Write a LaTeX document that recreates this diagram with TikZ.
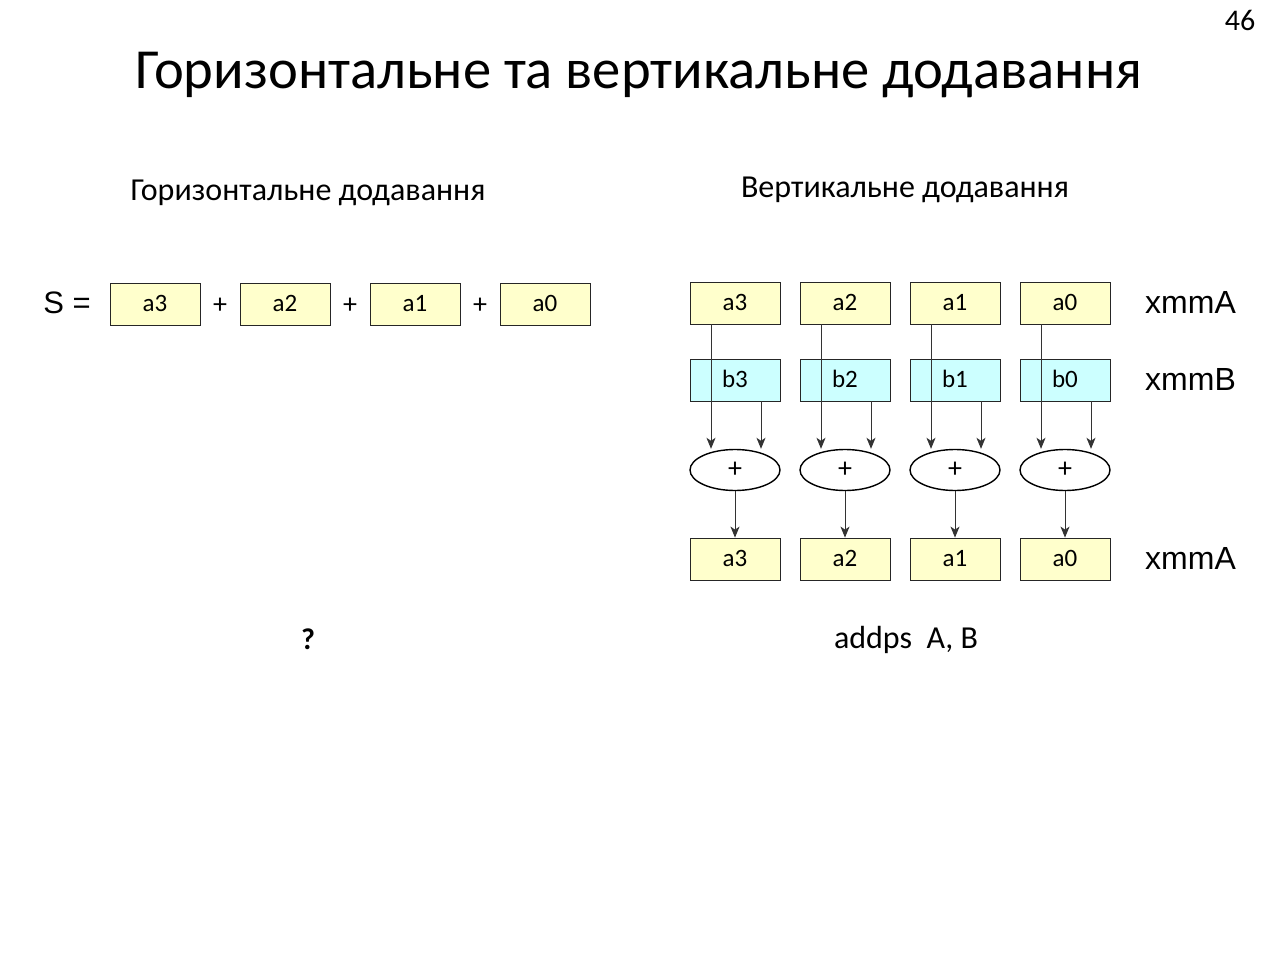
\documentclass[tikz,border=0pt]{standalone}
\usepackage{fontspec}
\setmainfont{Carlito}
\newfontfamily\arialf{Liberation Sans}
\usetikzlibrary{arrows.meta,shapes.geometric}
\definecolor{yel}{HTML}{FFFFCC}
\definecolor{cya}{HTML}{CCFFFF}
\begin{document}
\begin{tikzpicture}[x=1pt,y=-1pt,
  cell/.style={draw=black!85,line width=0.8pt,minimum width=90pt,minimum height=42pt,inner sep=0pt,text height=16pt,text depth=2pt,font=\fontsize{25}{29}\selectfont},
  ybox/.style={cell,fill=yel},
  cbox/.style={cell,fill=cya},
  sumop/.style={ellipse,draw=black,line width=1.4pt,fill=white,minimum width=90pt,minimum height=41pt,inner sep=0pt,font=\fontsize{28}{32}\selectfont},
  arr/.style={draw=black!80,line width=0.9pt,-{Stealth[length=11pt,width=9pt,inset=3pt]}},
  reg/.style={font=\arialf\fontsize{32}{38}\selectfont,anchor=west,inner sep=0pt},
  sub/.style={font=\fontsize{32}{38}\selectfont,inner sep=0pt},
  plus/.style={font=\fontsize{28}{32}\selectfont,inner sep=0pt}
]
\useasboundingbox (0,0) rectangle (1280,955);
\fill[white] (0,0) rectangle (1280,955);

\node[font=\fontsize{56.6}{68}\selectfont,inner sep=0pt] (title) at (639,75) {Горизонтальне та вертикальне додавання};
\node[font=\fontsize{30}{36}\selectfont,inner sep=0pt] (pnum) at (1240,20) {46};

\node[sub] (hsub) at (308,193) {Горизонтальне додавання};
\node[sub] (vsub) at (905,190) {Вертикальне додавання};

% left: horizontal
\node[font=\arialf\fontsize{31}{36}\selectfont,inner sep=0pt] (S) at (67,303) {S =};
\node[ybox] (h3) at (155,304) {a3};
\node[ybox] (h2) at (285,304) {a2};
\node[ybox] (h1) at (415,304) {a1};
\node[ybox] (h0) at (545,304) {a0};
\node[plus] (p1) at (220,306) {+};
\node[plus] (p2) at (350,306) {+};
\node[plus] (p3) at (480,306) {+};
\node[font=\bfseries\fontsize{30}{36}\selectfont,inner sep=0pt] (q) at (308,639) {?};

% right: vertical
\foreach \i/\x in {3/735,2/845,1/955,0/1065}{
  \node[ybox] (A\i) at (\x,303) {a\i};
  \node[cbox] (B\i) at (\x,380) {b\i};
  \node[sumop] (P\i) at (\x,470) {+};
  \node[ybox] (R\i) at (\x,559) {a\i};
  \draw[arr] ([xshift=-24pt]A\i.south) -- ([xshift=-24pt]A\i.south |- P\i.north);
  \draw[arr] ([xshift=26pt]B\i.south) -- ([xshift=26pt]B\i.south |- P\i.north);
  \draw[arr] (P\i.south) -- (R\i.north);
}
\node[reg] (xa) at (1145,302) {xmmA};
\node[reg] (xb) at (1145,379) {xmmB};
\node[reg] (xr) at (1145,558) {xmmA};
\node[sub] (cmd) at (906,640) {addps\ \ A, B};
\end{tikzpicture}
\end{document}
